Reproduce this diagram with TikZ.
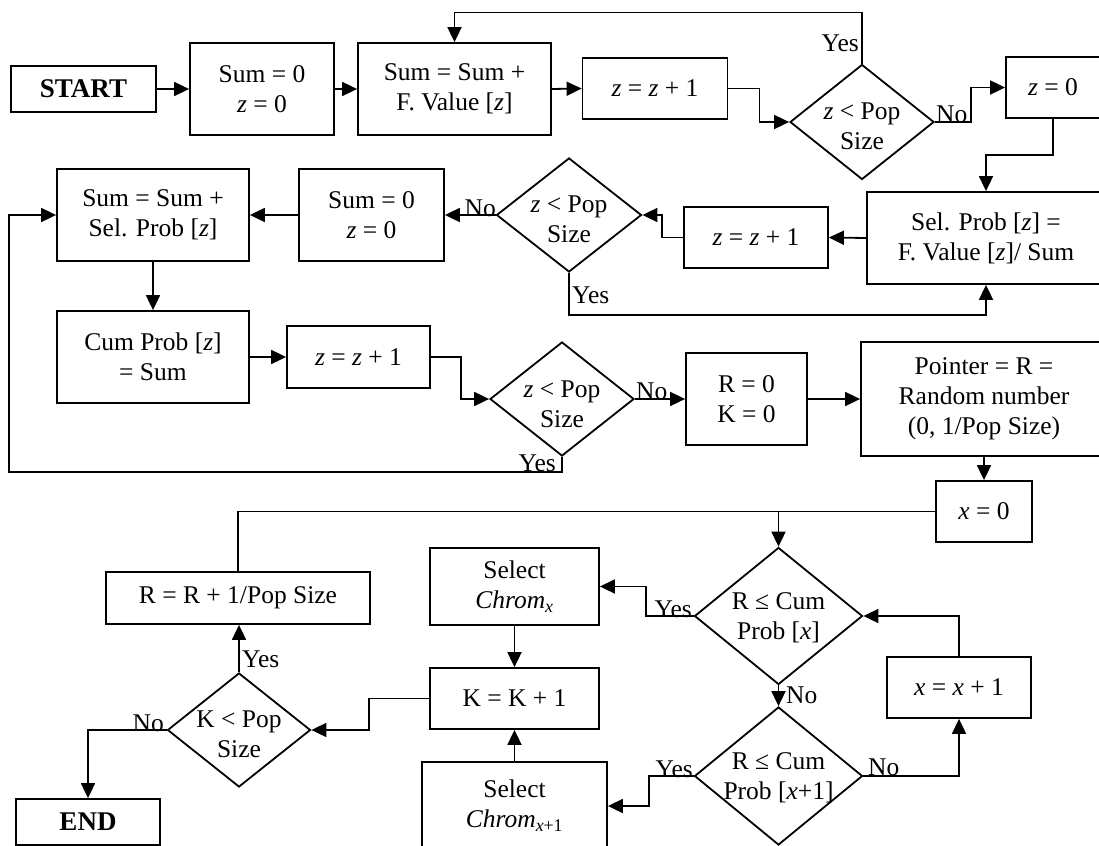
\documentclass[tikz,border=0pt]{standalone}
\usepackage{fontspec}
\setmainfont{Liberation Serif}
\usetikzlibrary{arrows.meta,shapes.geometric}

\begin{document}
\begin{tikzpicture}[x=1pt,y=-1pt,
  every node/.style={font=\fontsize{25.5}{30}\selectfont},
  box/.style={draw, line width=1.8pt, inner sep=0pt, align=center},
  term/.style={box, font=\fontsize{27}{30}\selectfont\bfseries},
  dia/.style={draw, diamond, line width=1.8pt, inner sep=0pt},
  txt/.style={inner sep=0pt, align=center},
  lab/.style={inner sep=0pt},
  flow/.style={line width=1.8pt, -{Triangle[length=15pt,width=14pt]}},
  wire/.style={line width=1.8pt}
]
\useasboundingbox (0,0) rectangle (1099,845);
\clip (0,0) rectangle (1099,845);

% ---- first row: fitness sum ----
\node[term, minimum width=145pt, minimum height=46pt] (start) at (83.5,89) {START};
\node[box, minimum width=144pt, minimum height=92pt] (init) at (262,89) {Sum = 0\\\textit{z} = 0};
\node[box, minimum width=193pt, minimum height=92pt] (sumf) at (454.5,89) {Sum = Sum +\\F. Value [\textit{z}]};
\node[box, minimum width=145pt, minimum height=61pt] (inc1) at (655,88.5) {\textit{z} = \textit{z} + 1};
\node[dia, minimum width=144pt, minimum height=115pt] (d1) at (862,122) {};
\node[txt] (d1t) at (862,126) {\textit{z} < Pop\\Size};
\node[box, minimum width=94pt, minimum height=61pt] (z0) at (1053,87.5) {\textit{z} = 0};

% ---- second row: selection probabilities ----
\node[box, minimum width=238pt, minimum height=92pt] (selp) at (986,238) {Sel. Prob [\textit{z}] =\\F. Value [\textit{z}]/ Sum};
\node[box, minimum width=144pt, minimum height=61pt] (inc2) at (756,237.5) {\textit{z} = \textit{z} + 1};
\node[dia, minimum width=145pt, minimum height=114pt] (d2) at (569,215) {};
\node[txt] (d2t) at (569,219) {\textit{z} < Pop\\Size};
\node[box, minimum width=145pt, minimum height=92pt] (init2) at (371.5,215) {Sum = 0\\\textit{z} = 0};
\node[box, minimum width=192pt, minimum height=92pt] (sums) at (153,215) {Sum = Sum +\\Sel. Prob [\textit{z}]};

% ---- third row: cumulative probabilities ----
\node[box, minimum width=192pt, minimum height=92pt] (cum) at (153,357) {Cum Prob [\textit{z}]\\= Sum};
\node[box, minimum width=143pt, minimum height=62pt] (inc3) at (358.5,357) {\textit{z} = \textit{z} + 1};
\node[dia, minimum width=144pt, minimum height=114pt] (d3) at (562,399) {};
\node[txt] (d3t) at (562,404) {\textit{z} < Pop\\Size};
\node[box, minimum width=121pt, minimum height=92pt] (rk) at (746.5,399) {R = 0\\K = 0};
\node[box, minimum width=246pt, minimum height=114pt] (ptr) at (984,399) {Pointer = R =\\Random number\\(0, 1/Pop Size)};

% ---- selection loop ----
\node[box, minimum width=96pt, minimum height=61pt] (x0) at (984,511.5) {\textit{x} = 0};
\node[dia, minimum width=168pt, minimum height=137pt] (d4) at (778.5,616) {};
\node[txt] (d4t) at (778.5,618) {R ≤ Cum\\Prob [\textit{x}]};
\node[dia, minimum width=168pt, minimum height=138pt] (d5) at (778.5,776) {};
\node[txt] (d5t) at (778.5,778) {R ≤ Cum\\Prob [\textit{x}+1]};
\node[box, minimum width=144pt, minimum height=61pt] (xinc) at (959,687.5) {\textit{x} = \textit{x} + 1};
\node[box, minimum width=169pt, minimum height=77pt] (selx) at (514.5,586.5) {Select\\\textit{Chrom}\textsubscript{\textit{x}}};
\node[box, minimum width=169pt, minimum height=61pt] (kinc) at (514.5,698.5) {K = K + 1};
\node[box, minimum width=185pt, minimum height=88pt] (selx1) at (514.5,806) {Select\\\textit{Chrom}\textsubscript{\textit{x}+1}};
\node[box, minimum width=264pt, minimum height=52pt] (rr) at (238,598) {R = R + 1/Pop Size};
\node[dia, minimum width=143pt, minimum height=114pt] (d6) at (239,730) {};
\node[txt] (d6t) at (239,734) {K < Pop\\Size};
\node[term, minimum width=144pt, minimum height=46pt] (endn) at (88,822) {END};

% ---- connectors ----
\draw[flow] (start.east) -- (init.west);
\draw[flow] (init.east) -- (sumf.west);
\draw[flow] (sumf.east) -- (inc1.west);
\draw[flow] (inc1.east) -- ++(31,0) |- (d1.west);
\draw[flow] (d1.north) -- ++(0,-51) -| (sumf.north);
\draw[flow] (d1.east) -- ++(36,0) |- (z0.west);
\draw[flow] (z0.south) -- ++(0,36) -| (selp.north);
\draw[flow] (selp.west) -- (inc2.east);
\draw[flow] (inc2.west) -- ++(-21,0) |- (d2.east);
\draw[flow] (d2.west) -- (init2.east);
\draw[flow] (d2.south) -- ++(0,42) -| (selp.south);
\draw[flow] (init2.west) -- (sums.east);
\draw[flow] (sums.south) -- (cum.north);
\draw[flow] (cum.east) -- (inc3.west);
\draw[flow] (inc3.east) -- ++(30,0) |- (d3.west);
\draw[flow] (d3.east) -- (rk.west);
\coordinate (back) at (9,472);
\draw[flow] (d3.south) |- (back) |- (sums.west);
\draw[flow] (rk.east) -- (ptr.west);
\draw[flow] (ptr.south) -- (x0.north);
\draw[flow] (x0.west) -| (d4.north);
\coordinate (join) at (d4.north |- x0.west);
\draw[wire] (rr.north) |- (join);
\draw[flow] (d4.west) -- ++(-48,0) |- (selx.east);
\draw[flow] (selx.south) -- (kinc.north);
\draw[flow] (d4.south) -- (d5.north);
\draw[flow] (d5.west) -- ++(-45,0) |- (selx1.east);
\draw[flow] (d5.east) -| (xinc.south);
\draw[flow] (xinc.north) |- (d4.east);
\draw[flow] (selx1.north) -- (kinc.south);
\draw[flow] (kinc.west) -- ++(-60,0) |- (d6.east);
\draw[flow] (d6.north) -- (d6.north |- rr.south);
\draw[flow] (d6.west) -| (endn.north);

% ---- branch labels ----
\node[lab, anchor=base east] (l1) at (859,52) {Yes};
\node[lab, anchor=base west] (l2) at (936,123) {No};
\node[lab, anchor=base east] (l3) at (496,216) {No};
\node[lab, anchor=base west] (l4) at (572,303) {Yes};
\node[lab, anchor=base west] (l5) at (636,399) {No};
\node[lab, anchor=base east] (l6) at (556,471) {Yes};
\node[lab, anchor=base east] (l7) at (692,617) {Yes};
\node[lab, anchor=base west] (l8) at (786,703) {No};
\node[lab, anchor=base east] (l9) at (693,777) {Yes};
\node[lab, anchor=base west] (l10) at (868,775) {No};
\node[lab, anchor=base west] (l11) at (242,667) {Yes};
\node[lab, anchor=base east] (l12) at (164,731) {No};
\end{tikzpicture}
\end{document}
